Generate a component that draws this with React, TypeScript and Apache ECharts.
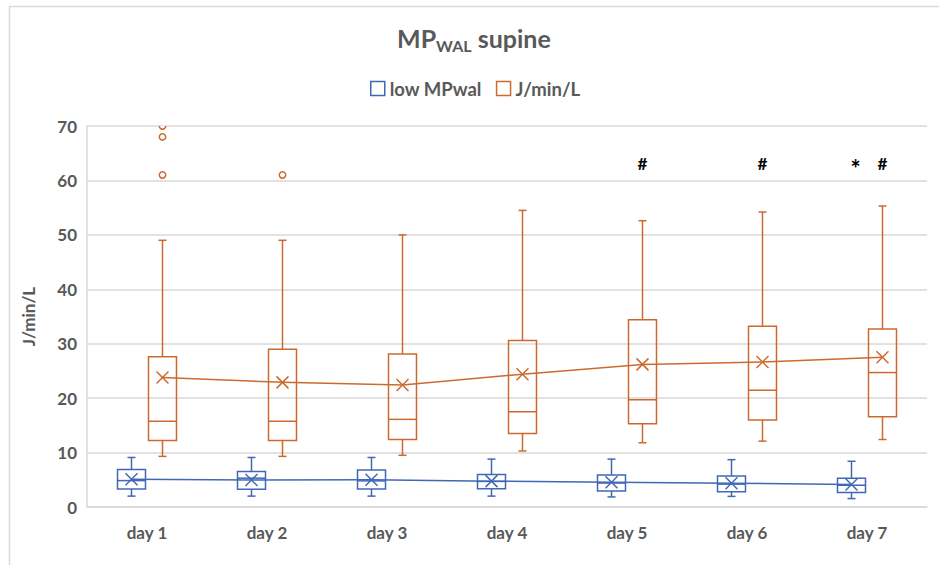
import React, { useEffect, useRef } from 'react';
import * as echarts from 'echarts';

// Categories on the x axis
const days = ['day 1', 'day 2', 'day 3', 'day 4', 'day 5', 'day 6', 'day 7'];

// Y axis range
const yMin = 0;
const yMax = 70;
const yStep = 10;

// low MPwal group: [min, Q1, median, Q3, max] per day
const lowBoxes = [
  [2.0, 3.3, 4.85, 6.9, 9.1],
  [2.0, 3.25, 5.3, 6.5, 9.1],
  [2.0, 3.3, 4.8, 6.8, 9.1],
  [2.0, 3.35, 4.7, 5.95, 8.8],
  [1.85, 2.95, 4.4, 5.9, 8.8],
  [1.95, 2.8, 4.2, 5.7, 8.7],
  [1.55, 2.65, 4.0, 5.3, 8.4],
];
const lowMeans = [5.1, 4.95, 5.0, 4.75, 4.55, 4.35, 4.15];
const lowSignificance = ['', '', '', '', '', '', '*'];

// J/min/L group: [min, Q1, median, Q3, max] per day
const jBoxes = [
  [9.3, 12.2, 15.75, 27.6, 49.0],
  [9.3, 12.2, 15.75, 29.0, 49.0],
  [9.5, 12.4, 16.1, 28.1, 50.0],
  [10.3, 13.5, 17.5, 30.6, 54.5],
  [11.8, 15.3, 19.7, 34.4, 52.6],
  [12.1, 16.0, 21.45, 33.2, 54.2],
  [12.4, 16.6, 24.7, 32.7, 55.3],
];
const jMeans = [23.8, 22.9, 22.4, 24.4, 26.2, 26.65, 27.5];
const jSignificance = ['', '', '', '', '#', '#', '#'];
// Outliers: [day index, value]
const jOutliers = [
  [0, 61],
  [0, 68],
  [0, 70],
  [1, 61],
];

// Height at which the significance markers are printed
const sigLevel = 63.2;

const BLUE = '#4068B5';
const ORANGE = '#CB6A2F';
const GREY = '#595959';
const FONT = 'Lato, "Noto Sans", sans-serif';

const BOX_W = 28;
const CAP = 4;
const CROSS = 6;
const SHIFT = 15.5;

function boxRenderer(
  boxes: number[][],
  means: number[],
  sig: string[],
  color: string,
  offset: number
) {
  return (params: any, api: any) => {
    const i = params.dataIndex;
    const [mn, q1, md, q3, mx] = boxes[i];
    const cx = api.coord([i, 0])[0] + offset;
    const y = (v: number) => api.coord([i, v])[1];
    const half = BOX_W / 2;
    const seg = (x1: number, y1: number, x2: number, y2: number) => ({
      type: 'line',
      shape: { x1, y1, x2, y2 },
      style: { stroke: color, lineWidth: 1.5, fill: null },
    });
    const children: any[] = [
      seg(cx, y(mx), cx, y(q3)),
      seg(cx - CAP, y(mx), cx + CAP, y(mx)),
      seg(cx, y(q1), cx, y(mn)),
      seg(cx - CAP, y(mn), cx + CAP, y(mn)),
      {
        type: 'rect',
        shape: { x: cx - half, y: y(q3), width: 2 * half, height: y(q1) - y(q3) },
        style: { fill: 'none', stroke: color, lineWidth: 1.5 },
      },
      seg(cx - half, y(md), cx + half, y(md)),
    ];
    const my = y(means[i]);
    children.push(
      seg(cx - CROSS, my - CROSS, cx + CROSS, my + CROSS),
      seg(cx - CROSS, my + CROSS, cx + CROSS, my - CROSS)
    );
    if (i < means.length - 1) {
      const nx = api.coord([i + 1, 0])[0] + offset;
      const ny = api.coord([i + 1, means[i + 1]])[1];
      children.push(seg(cx, my, nx, ny));
    }
    if (sig[i]) {
      // the asterisk glyph sits high in the font, so it is set larger and lower
      const star = sig[i] === '*';
      children.push({
        type: 'text',
        x: cx + (star ? 4 : 0),
        y: y(sigLevel) + (star ? 5 : 0),
        style: {
          text: sig[i],
          fill: '#000',
          font: `bold ${star ? 24 : 17}px ${FONT}`,
          align: 'center',
          verticalAlign: 'middle',
        },
      });
    }
    return { type: 'group', children };
  };
}

function outlierRenderer(color: string, offset: number) {
  return (params: any, api: any) => {
    const p = api.coord([api.value(0), api.value(1)]);
    return {
      type: 'circle',
      shape: { cx: p[0] + offset, cy: p[1], r: 3.2 },
      style: { fill: '#fff', stroke: color, lineWidth: 1.5 },
    };
  };
}

export default function App() {
  const ref = useRef<HTMLDivElement>(null);

  useEffect(() => {
    if (!ref.current) return;
    const chart = echarts.init(ref.current, null, { renderer: 'svg' });
    chart.setOption({
      animation: false,
      backgroundColor: '#fff',
      title: {
        text: '{a|MP}{b|WAL}{a| supine}',
        left: 392,
        top: 18,
        textStyle: {
          rich: {
            a: { fontSize: 25, fontWeight: 'bold', color: GREY, fontFamily: FONT },
            b: { fontSize: 16, fontWeight: 'bold', color: GREY, fontFamily: FONT, padding: [14, 0, 0, 0] },
          },
        },
      },
      legend: {
        left: 365,
        top: 74,
        itemWidth: 14,
        itemHeight: 14,
        itemGap: 14,
        textStyle: { color: GREY, fontSize: 18.5, fontWeight: 'bold', fontFamily: FONT },
        data: [
          { name: 'low MPwal', icon: 'rect', itemStyle: { color: '#fff', borderColor: BLUE, borderWidth: 1.5 } },
          { name: 'J/min/L', icon: 'rect', itemStyle: { color: '#fff', borderColor: ORANGE, borderWidth: 1.5 } },
        ],
      },
      graphic: [
        {
          type: 'rect',
          shape: { x: 9.5, y: 6.5, width: 1000, height: 700 },
          style: { fill: 'none', stroke: '#d9d9d9', lineWidth: 1.5 },
          silent: true,
        },
      ],
      grid: { left: 87, right: 12, top: 126, bottom: 58 },
      xAxis: {
        type: 'category',
        data: days,
        axisTick: { show: false },
        axisLine: { lineStyle: { color: '#d9d9d9', width: 1.5 } },
        axisLabel: { color: GREY, fontSize: 17, fontWeight: 'bold', fontFamily: FONT, margin: 17 },
      },
      yAxis: {
        type: 'value',
        min: yMin,
        max: yMax,
        interval: yStep,
        name: 'J/min/L',
        nameLocation: 'middle',
        nameGap: 50,
        nameTextStyle: { color: GREY, fontSize: 17, fontWeight: 'bold', fontFamily: FONT },
        axisLine: { show: true, lineStyle: { color: '#d9d9d9', width: 1.5 } },
        axisTick: { show: false },
        axisLabel: { color: GREY, fontSize: 17, fontWeight: 'bold', fontFamily: FONT, margin: 10 },
        splitLine: { lineStyle: { color: '#d9d9d9', width: 1.5 } },
      },
      series: [
        {
          name: 'low MPwal',
          type: 'custom',
          itemStyle: { color: BLUE },
          renderItem: boxRenderer(lowBoxes, lowMeans, lowSignificance, BLUE, -SHIFT),
          data: lowBoxes.map((b, i) => [i, b[4]]),
          clip: false,
        },
        {
          name: 'J/min/L',
          type: 'custom',
          itemStyle: { color: ORANGE },
          renderItem: boxRenderer(jBoxes, jMeans, jSignificance, ORANGE, SHIFT),
          data: jBoxes.map((b, i) => [i, b[4]]),
          clip: false,
        },
        {
          name: 'J/min/L',
          type: 'custom',
          renderItem: outlierRenderer(ORANGE, SHIFT),
          data: jOutliers,
          clip: true,
        },
      ],
    });
    return () => chart.dispose();
  }, []);

  return (
    <div
      ref={ref}
      style={{ position: 'fixed', left: 0, top: 0, width: 939, height: 565 }}
    />
  );
}
